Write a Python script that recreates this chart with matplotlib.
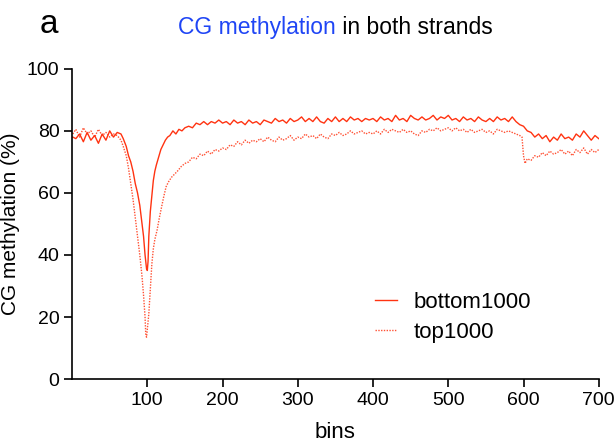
import matplotlib
matplotlib.use("Agg")
import matplotlib.pyplot as plt

plt.rcParams["font.family"] = ["Liberation Sans", "DejaVu Sans"]

# values (bin index, % methylation)
bins_bottom = [1, 5, 10, 15, 20, 25, 30, 35, 40, 45, 50, 55, 60, 65, 68, 72, 75, 78, 81, 84, 87,
               90, 93, 95, 97, 99, 100, 101, 102, 104, 106, 108, 110, 112, 115, 118, 121, 124,
               127, 130, 134, 138, 142, 146, 150, 155, 160, 165, 170, 175, 180, 185, 190, 195,
               200, 205, 210, 215, 220, 225, 230, 235, 240, 245, 250, 255, 260, 265, 270, 275,
               280, 285, 290, 295, 300, 305, 310, 315, 320, 325, 330, 335, 340, 345, 350, 355,
               360, 365, 370, 375, 380, 385, 390, 395, 400, 405, 410, 415, 420, 425, 430, 435,
               440, 445, 450, 455, 460, 465, 470, 475, 480, 485, 490, 495, 500, 505, 510, 515,
               520, 525, 530, 535, 540, 545, 550, 555, 560, 565, 570, 575, 580, 585, 590, 595,
               600, 605, 610, 615, 620, 625, 630, 635, 640, 645, 650, 655, 660, 665, 670, 675,
               680, 685, 690, 695, 700]
pct_bottom = [78, 77.5, 79, 76.5, 79.5, 77, 78.5, 76, 79, 77, 80, 78, 79.5, 79, 77.5, 75, 72, 70,
              67, 63, 60, 56, 50, 46, 40, 35.5, 35, 38, 46, 54, 59, 64, 67, 69, 71.5, 74, 75.5,
              77, 78, 78.5, 80, 79, 80.5, 80, 81, 81.5, 81, 82.5, 82, 83, 82, 83, 82.5, 83.5,
              82.5, 83, 82, 83.5, 82.5, 83, 82, 83.5, 82.5, 83, 82, 83.5, 83, 82.5, 84, 83,
              83.5, 82.5, 84, 83, 83.5, 84.5, 83, 84, 83, 84.5, 83, 82.5, 84, 83, 84.5, 83,
              84, 83, 84.5, 83.5, 84, 83, 84, 83.5, 84, 83, 84.5, 83.5, 84, 83, 85, 83.5,
              84, 83, 85, 84, 83.5, 84.5, 83.5, 84, 85, 83.5, 84.5, 84, 85, 83.5, 84, 83,
              84.5, 83.5, 84, 83, 84.5, 83.5, 83, 84, 83, 84.5, 83.5, 84, 83, 84.5, 83, 82,
              81.5, 80, 79.5, 78, 79, 77.5, 78.5, 76.5, 78, 77, 79, 77.5, 78, 77, 79, 78,
              80, 78.5, 77, 78.5, 77.5]

bins_top = [1, 5, 10, 15, 20, 25, 30, 35, 40, 45, 50, 55, 60, 65, 68, 72, 75, 78, 81, 84, 87, 90,
            93, 95, 97, 98, 99, 100, 102, 104, 106, 108, 110, 113, 116, 119, 122, 125, 128, 132,
            136, 140, 145, 150, 155, 160, 165, 170, 175, 180, 185, 190, 195, 200, 205, 210, 215,
            220, 225, 230, 235, 240, 245, 250, 255, 260, 265, 270, 275, 280, 285, 290, 295, 300,
            305, 310, 315, 320, 325, 330, 335, 340, 345, 350, 355, 360, 365, 370, 375, 380, 385,
            390, 395, 400, 405, 410, 415, 420, 425, 430, 435, 440, 445, 450, 455, 460, 465, 470,
            475, 480, 485, 490, 495, 500, 505, 510, 515, 520, 525, 530, 535, 540, 545, 550, 555,
            560, 565, 570, 575, 580, 585, 590, 595, 598, 600, 602, 605, 610, 615, 620, 625, 630,
            635, 640, 645, 650, 655, 660, 665, 670, 675, 680, 685, 690, 695, 700]
pct_top = [79, 80.5, 78, 81, 79, 80, 78, 80.5, 78.5, 79.5, 78, 79, 78.5, 77, 75, 72, 68, 63, 58,
           52, 46, 40, 33, 27, 20, 14, 13.5, 16, 21, 29, 37, 42, 45, 48, 52, 55.5, 59, 62, 63.5,
           65, 66, 67, 68.5, 69.5, 70, 71.5, 71, 72.5, 72, 73.5, 72.5, 74, 73.5, 74.5, 74, 75.5,
           75, 76.5, 75.5, 77, 76, 77, 76.5, 77.5, 76.5, 78, 77, 76.5, 78, 77, 77.5, 78.5, 77,
           78, 77.5, 79, 78, 78.5, 77.5, 79, 78, 77.5, 79, 78.5, 79.5, 78.5, 79, 80, 79, 79.5,
           80, 79, 79.5, 79, 80, 79, 80.5, 79.5, 80.5, 80, 79.5, 80.5, 79.5, 80, 79, 78.5, 80,
           79.5, 80.5, 80, 81, 80, 80.5, 81, 80, 81, 80, 80.5, 79.5, 80.5, 79.5, 80, 80.5, 79.5,
           80, 79, 80.5, 80, 79.5, 80, 79.5, 79, 78.5, 78, 72, 69.5, 71, 70.5, 72, 71.5, 73, 72,
           73.5, 72.5, 73, 74, 72.5, 73.5, 72, 74, 73, 74.5, 72.5, 74, 73, 74]

line_color = "#FF3311"

fig = plt.figure(figsize=(6.16, 4.47), dpi=100)
ax = fig.add_axes([0.117, 0.152, 0.855, 0.694])

ax.plot(bins_bottom, pct_bottom, color=line_color, lw=1.0, label="bottom1000")
ax.plot(bins_top, pct_top, color=line_color, lw=1.0, ls=(0, (1, 1)), alpha=0.85, label="top1000")

ax.set_xlim(0, 700)
ax.set_ylim(0, 100)
ax.set_xticks(range(100, 701, 100))
ax.set_yticks(range(0, 101, 20))
ax.tick_params(direction="out", length=6, width=1.2, labelsize=14, pad=3)
for side in ("top", "right"):
    ax.spines[side].set_visible(False)
for side in ("left", "bottom"):
    ax.spines[side].set_linewidth(1.2)

ax.set_xlabel("bins", fontsize=16, labelpad=10)
ax.set_ylabel("CG methylation (%)", fontsize=15, labelpad=5)

ax.legend(loc="upper left", bbox_to_anchor=(0.575, 0.28), frameon=False, fontsize=16,
          handlelength=1.0, handletextpad=0.75, labelspacing=0.4, borderpad=0, borderaxespad=0)

# two-coloured title
fig.text(0.545, 0.925, "CG methylation", color="#1F45F5", fontsize=16.5, ha="right", va="baseline")
fig.text(0.545, 0.925, " in both strands", color="black", fontsize=16.5, ha="left", va="baseline")
fig.text(0.064, 0.927, "a", fontsize=24, ha="left", va="baseline")

fig.savefig("out.png", dpi=100)
